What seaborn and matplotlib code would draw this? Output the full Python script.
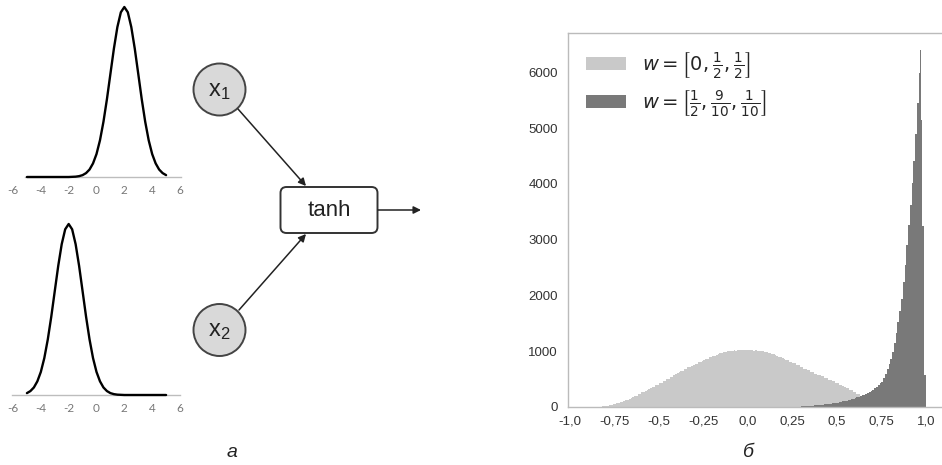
import numpy as np
import pandas as pd
import matplotlib
matplotlib.use("Agg")
import matplotlib.pyplot as plt
from matplotlib.patches import Circle, FancyBboxPatch, FancyArrowPatch, Patch
import seaborn as sns

# ---------------- data ----------------
# (a) input distributions, sampled every 0.25 from -5 to 5 (relative density)
gauss_x = [-5.0, -4.75, -4.5, -4.25, -4.0, -3.75, -3.5, -3.25, -3.0, -2.75, -2.5,
           -2.25, -2.0, -1.75, -1.5, -1.25, -1.0, -0.75, -0.5, -0.25, 0.0, 0.25,
           0.5, 0.75, 1.0, 1.25, 1.5, 1.75, 2.0, 2.25, 2.5, 2.75, 3.0, 3.25, 3.5,
           3.75, 4.0, 4.25, 4.5, 4.75, 5.0]
x1_density = [0, 0, 0, 0, 0, 0, 0, 0, 0, 0, 0, 0, 0,
              0.001, 0.002, 0.005, 0.011, 0.023, 0.044, 0.080, 0.135,
              0.216, 0.325, 0.458, 0.607, 0.755, 0.882, 0.969, 1.0,
              0.969, 0.882, 0.755, 0.607, 0.458, 0.325, 0.216, 0.135,
              0.080, 0.044, 0.023, 0.011]
x2_density = [0.011, 0.023, 0.044, 0.080, 0.135, 0.216, 0.325, 0.458, 0.607,
              0.755, 0.882, 0.969, 1.0, 0.969, 0.882, 0.755, 0.607, 0.458,
              0.325, 0.216, 0.135, 0.080, 0.044, 0.023, 0.011, 0.005, 0.002,
              0.001, 0, 0, 0, 0, 0, 0, 0, 0, 0, 0, 0, 0, 0]
gauss_ticks = [-6, -4, -2, 0, 2, 4, 6]

# (б) histogram counts
light_start, light_width = -0.86, 0.01
light_counts = [
    0, 1, 2, 3, 5, 8, 12, 17, 24, 30, 40, 47, 58, 66, 79, 88, 101, 112, 128, 139,
    158, 168, 189, 198, 220, 236, 255, 266, 290, 298, 318, 333, 349, 361, 384, 397,
    419, 431, 455, 468, 494, 505, 530, 541, 569, 580, 604, 615, 640, 648, 670, 681,
    705, 712, 735, 744, 766, 772, 795, 803, 826, 832, 856, 862, 886, 890, 911, 915,
    936, 940, 960, 962, 980, 979, 996, 994, 1005, 998, 1012, 1004, 1018, 1010,
    1022, 1012, 1020, 1014,
    1022, 1012, 1020, 1008, 1016, 1004, 1008, 994, 995, 980, 982, 964, 964, 944,
    942, 920, 918, 896, 893, 868, 864, 840, 838, 810, 808, 780, 778, 750, 747, 716,
    713, 684, 683, 654, 653, 625, 623, 596, 593, 570, 568, 544, 543, 514, 513, 484,
    483, 454, 453, 424, 423, 394, 393, 364, 362, 330, 328, 298, 296, 264, 261, 230,
    226, 192, 188, 156, 152, 120, 116, 88, 84, 60, 54, 38, 33, 21, 17, 10, 7, 3]
dark_start, dark_width = 0.30, 0.01
dark_counts = [
    8, 10, 11, 13, 15, 18, 20, 23, 26, 29, 32, 35, 39, 42, 46, 50, 55, 60, 65, 70,
    75, 81, 88, 95, 102, 110, 118, 127, 136, 145, 155, 166, 178, 190, 202, 215,
    232, 250, 268, 286, 305, 330, 358, 388, 418, 450, 520, 595, 675, 760, 850,
    990, 1140, 1330, 1520, 1720, 1930, 2230, 2550, 2900, 3260, 3630, 4010, 4420,
    4900, 5450]
dark_fine_start, dark_fine_width = 0.96, 0.005
dark_fine_counts = [6000, 6410, 5700, 5150, 3240, 3240, 575, 575]

hist_xticks = [-1.0, -0.75, -0.5, -0.25, 0.0, 0.25, 0.5, 0.75, 1.0]
hist_xlabels = ["-1,0", "-0,75", "-0,5", "-0,25", "0,0", "0,25", "0,5", "0,75", "1,0"]
hist_yticks = [0, 1000, 2000, 3000, 4000, 5000, 6000]
legend_labels = [r"$w = \left[0, \frac{1}{2}, \frac{1}{2}\right]$",
                 r"$w = \left[\frac{1}{2}, \frac{9}{10}, \frac{1}{10}\right]$"]

# ---------------- style ----------------
sns.set_style("white")
plt.rcParams["font.family"] = ["Liberation Sans", "DejaVu Sans"]
plt.rcParams["mathtext.fontset"] = "dejavusans"

LIGHT = "#c9c9c9"
DARK = "#797979"
W, H = 942, 465
fig = plt.figure(figsize=(W / 100, H / 100), dpi=100)


def ax_px(left, top, right, bottom):
    return fig.add_axes([left / W, 1 - bottom / H, (right - left) / W, (bottom - top) / H])


# ---------------- (a) small gaussian plots ----------------
def gauss_panel(top, base, yvals, bounds):
    # x=-6 -> 13px, x=6 -> 180px
    ppu = (180 - 13) / 12.0
    left = 13 - 0.5 * ppu
    right = 180 + 0.5 * ppu
    ax = ax_px(left, top, right, base)
    df = pd.DataFrame({"x": gauss_x, "y": yvals})
    sns.lineplot(data=df, x="x", y="y", ax=ax, color="black", linewidth=1.7,
                 clip_on=False, zorder=3)
    ax.set_xlim(-6.5, 6.5)
    ax.set_ylim(0, 1.0)
    for s in ["left", "right", "top"]:
        ax.spines[s].set_visible(False)
    ax.spines["bottom"].set_color("#bdbdbd")
    ax.spines["bottom"].set_linewidth(1.0)
    ax.spines["bottom"].set_bounds(*bounds)
    ax.set_yticks([])
    ax.set_xticks(gauss_ticks)
    ax.set_xticklabels([str(t) for t in gauss_ticks], fontsize=8.5, color="#777777",
                       family=["Lato", "DejaVu Sans"])
    ax.tick_params(axis="x", length=0, pad=6)
    ax.set_xlabel("")
    ax.set_ylabel("")
    ax.patch.set_alpha(0)
    return ax


gauss_panel(7, 177, x1_density, (-5.15, 6.1))
gauss_panel(224, 395, x2_density, (-6.1, 6.0))

# ---------------- diagram ----------------
dax = fig.add_axes([0, 0, 1, 1], zorder=-1)
dax.set_xlim(0, W)
dax.set_ylim(H, 0)
dax.axis("off")
dax.patch.set_alpha(0)

for cy, lab in [(89.5, r"$\mathregular{x_1}$"), (330, r"$\mathregular{x_2}$")]:
    dax.add_patch(Circle((219.5, cy), 26, facecolor="#d9d9d9", edgecolor="#444444",
                         linewidth=1.4))
    dax.text(219.5, cy + 1, lab, ha="center", va="center", fontsize=17,
             color="#222222")

dax.add_patch(FancyBboxPatch((280.5, 187), 97, 46,
                             boxstyle="round,pad=0,rounding_size=6",
                             facecolor="white", edgecolor="#333333", linewidth=1.4))
dax.text(329, 210, "tanh", ha="center", va="center", fontsize=16, color="#222222")

arrow_kw = dict(arrowstyle="-|>", mutation_scale=11, color="#222222", linewidth=1.1,
                shrinkA=0, shrinkB=0)
dax.add_patch(FancyArrowPatch((238, 109), (306, 186), **arrow_kw))
dax.add_patch(FancyArrowPatch((239, 310), (306, 234), **arrow_kw))
dax.add_patch(FancyArrowPatch((378, 210), (421, 210), **arrow_kw))

# ---------------- (б) histogram ----------------
hax = ax_px(567.7, 32.7, 941, 406.7)

light_edges = light_start + light_width * np.arange(len(light_counts) + 1)
light_centers = (light_edges[:-1] + light_edges[1:]) / 2
dark_edges = np.concatenate([
    dark_start + dark_width * np.arange(len(dark_counts)),
    dark_fine_start + dark_fine_width * np.arange(len(dark_fine_counts) + 1)])
dark_centers = (dark_edges[:-1] + dark_edges[1:]) / 2
dark_all = list(dark_counts) + list(dark_fine_counts)

light_df = pd.DataFrame({"v": light_centers, "n": light_counts})
dark_df = pd.DataFrame({"v": dark_centers, "n": dark_all})

sns.histplot(data=light_df, x="v", weights="n", bins=[float(e) for e in light_edges],
             element="step", fill=True, color=LIGHT, alpha=1, linewidth=0, ax=hax)
sns.histplot(data=dark_df, x="v", weights="n", bins=[float(e) for e in dark_edges],
             element="step", fill=True, color=DARK, alpha=1, linewidth=0, ax=hax)

hax.set_xlim(-1.013, 1.085)
hax.set_ylim(0, 6715)
hax.set_xticks(hist_xticks)
hax.set_xticklabels(hist_xlabels)
hax.set_yticks(hist_yticks)
hax.set_yticklabels([str(t) for t in hist_yticks])
hax.tick_params(axis="both", length=0, labelsize=9.5, labelcolor="#333333")
hax.tick_params(axis="y", pad=7)
hax.tick_params(axis="x", pad=6)
hax.set_xlabel("")
hax.set_ylabel("")
for s in ["left", "bottom", "top"]:
    hax.spines[s].set_color("#bbbbbb")
    hax.spines[s].set_linewidth(1.0)
hax.spines["right"].set_visible(False)

handles = [Patch(facecolor=LIGHT, edgecolor="none"), Patch(facecolor=DARK, edgecolor="none")]
hax.legend(handles, legend_labels, loc="upper left", bbox_to_anchor=(0.049, 0.954),
           frameon=False, fontsize=14, handlelength=2.06, handleheight=0.68,
           handletextpad=0.8, labelspacing=0.42, borderpad=0, borderaxespad=0)

# panel labels
fig.text(232 / W, 1 - 452 / H, "а", ha="center", va="center", fontsize=14,
         style="italic", color="#222222")
fig.text(748 / W, 1 - 452 / H, "б", ha="center", va="center", fontsize=14,
         style="italic", color="#222222")

fig.savefig("out.png", dpi=100)
